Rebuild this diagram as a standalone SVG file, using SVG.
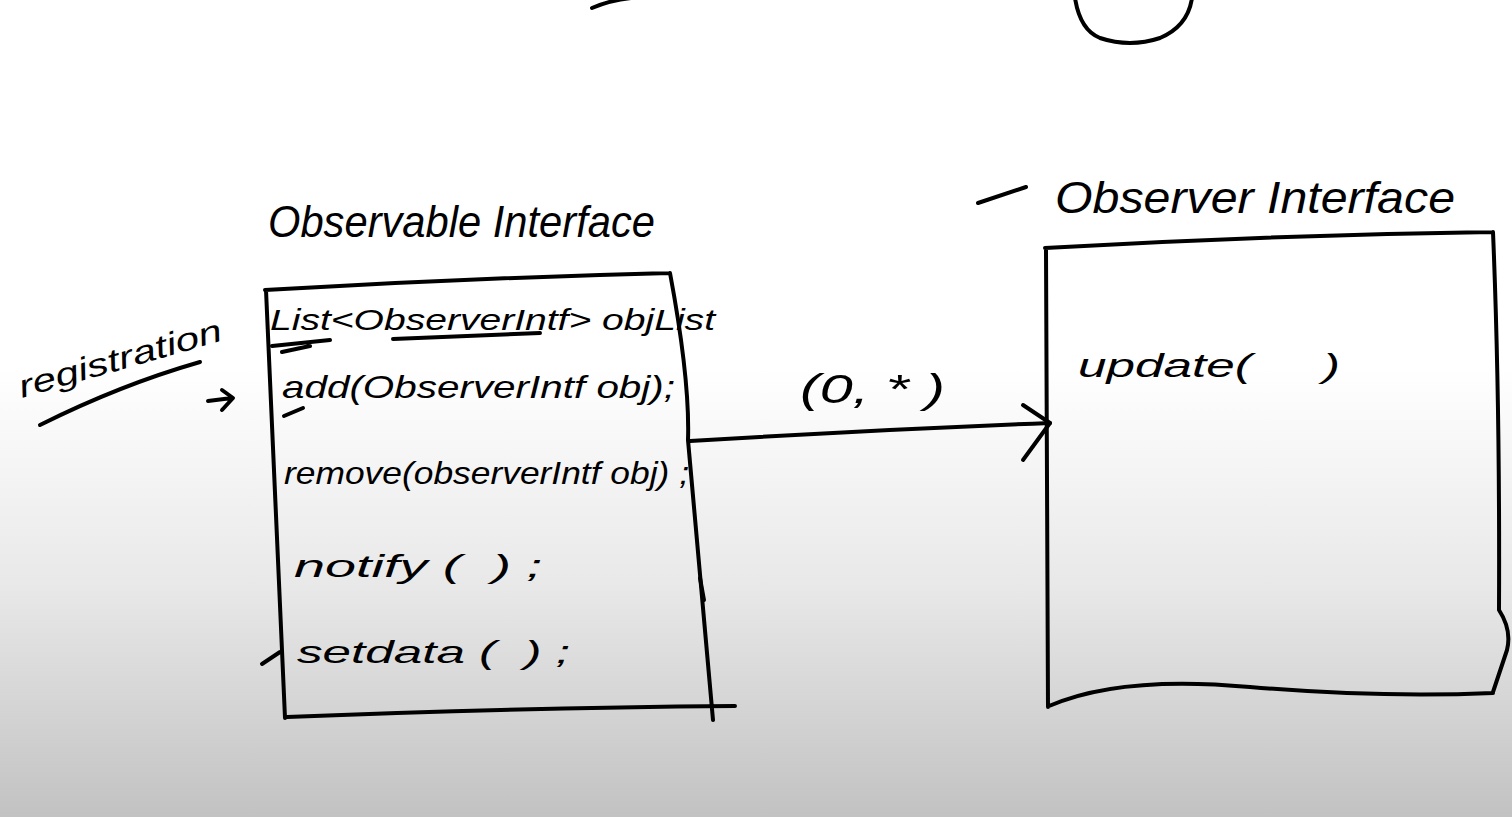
<svg xmlns="http://www.w3.org/2000/svg" width="1512" height="817" viewBox="0 0 1512 817">
<defs>
<linearGradient id="bg" x1="0" y1="0" x2="0" y2="1">
<stop offset="0" stop-color="#ffffff"/>
<stop offset="0.45" stop-color="#ffffff"/>
<stop offset="0.72" stop-color="#e8e8e8"/>
<stop offset="1" stop-color="#c2c2c2"/>
</linearGradient>
</defs>
<style>
.s{fill:none;stroke:#000;stroke-width:4;stroke-linecap:round;stroke-linejoin:round}
.t{font-family:"Liberation Sans","DejaVu Sans",sans-serif;fill:#000;font-style:italic;white-space:pre}
</style>
<rect x="0" y="0" width="1512" height="817" fill="url(#bg)"/>
<g id="top-marks">
<path class="s" d="M592,8 Q615,-2 645,-3"/>
<path class="s" d="M1075,-2 Q1080,30 1100,38 Q1130,48 1160,38 Q1188,26 1192,-2"/>
</g>
<g id="observable">
<text class="t" x="268" y="237" font-size="44" textLength="387" lengthAdjust="spacingAndGlyphs">Observable Interface</text>
<path class="s" d="M265,290 Q470,278 670,273 M670,273 Q690,380 688,440 L713,720 M266,290 L285,718 M287,717 Q500,708 735,706"/>
<path class="s" d="M700,578 L704,600"/>
<path class="s" d="M262,664 L280,652"/>
<text class="t" x="270" y="330" font-size="30" textLength="445" lengthAdjust="spacingAndGlyphs">List&lt;ObserverIntf&gt; objList</text>
<path class="s" d="M272,346 L330,340 M393,339 L540,333 M282,352 L310,346"/>
<text class="t" x="282" y="398" font-size="32" textLength="393" lengthAdjust="spacingAndGlyphs">add(ObserverIntf obj);</text>
<path class="s" d="M284,416 L303,408"/>
<text class="t" x="284" y="484" font-size="32" textLength="405" lengthAdjust="spacingAndGlyphs">remove(observerIntf obj) ;</text>
<text class="t" x="294" y="577" font-size="32" textLength="248" lengthAdjust="spacingAndGlyphs">notify (  ) ;</text>
<text class="t" x="297" y="663" font-size="32" textLength="273" lengthAdjust="spacingAndGlyphs">setdata (  ) ;</text>
</g>
<g id="registration">
<text class="t" x="22" y="398" font-size="32" textLength="210" lengthAdjust="spacingAndGlyphs" transform="rotate(-16 22 398)">registration</text>
<path class="s" d="M40,425 Q120,385 200,362"/>
<path class="s" d="M208,401 L232,398 M222,390 L233,398 L222,410"/>
</g>
<g id="observer">
<path class="s" d="M978,203 L1026,187"/>
<text class="t" x="1055" y="213" font-size="44" textLength="400" lengthAdjust="spacingAndGlyphs">Observer Interface</text>
<path class="s" d="M1045,248 Q1270,235 1493,232 M1493,232 Q1500,400 1499,610 Q1512,630 1507,650 L1493,692 M1046,250 L1048,707 M1049,706 Q1120,675 1250,687 Q1380,698 1493,693"/>
<text class="t" x="1078" y="377" font-size="34" textLength="262" lengthAdjust="spacingAndGlyphs">update(     )</text>
</g>
<g id="connectors">
<path class="s" d="M690,441 Q870,430 1050,423"/>
<path class="s" d="M1023,405 L1050,423 L1023,460"/>
<text class="t" x="800" y="403" font-size="40" textLength="145" lengthAdjust="spacingAndGlyphs">(0, * )</text>
</g>
</svg>
